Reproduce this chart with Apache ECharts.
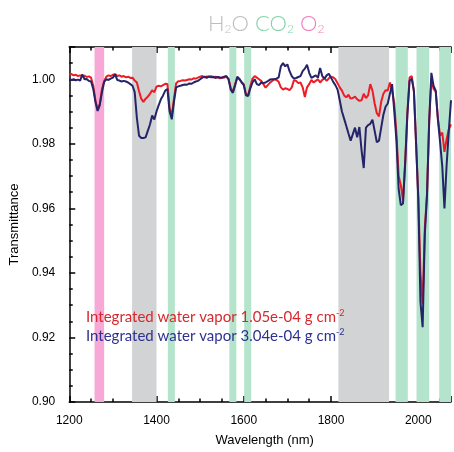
<!DOCTYPE html>
<html>
<head>
<meta charset="utf-8">
<title>Transmittance</title>
<script src="https://cdn.jsdelivr.net/npm/echarts@6/dist/echarts.min.js"></script>
</head>
<body style="margin:0">
<div id="container" style="width:454px;height:452px"></div>
<script>
// wavelength grid (nm)
var wavelengths = [
  1200,1205,1210,1215,1220,1225,1230,1235,1240,1245,
  1250,1255,1260,1265,1270,1275,1280,1285,1290,1295,
  1300,1305,1310,1315,1320,1325,1330,1335,1340,1345,
  1350,1355,1360,1365,1370,1375,1380,1385,1390,1395,
  1400,1405,1410,1415,1420,1425,1430,1435,1440,1445,
  1450,1455,1460,1465,1470,1475,1480,1485,1490,1495,
  1500,1505,1510,1515,1520,1525,1530,1535,1540,1545,
  1550,1555,1560,1565,1570,1575,1580,1585,1590,1595,
  1600,1605,1610,1615,1620,1625,1630,1635,1640,1645,
  1650,1655,1660,1665,1670,1675,1680,1685,1690,1695,
  1700,1705,1710,1715,1720,1725,1730,1735,1740,1745,
  1750,1755,1760,1765,1770,1775,1780,1785,1790,1795,
  1800,1805,1810,1815,1820,1825,1830,1835,1840,1845,
  1850,1855,1860,1865,1870,1875,1880,1885,1890,1895,
  1900,1905,1910,1915,1920,1925,1930,1935,1940,1945,
  1950,1955,1960,1965,1970,1975,1980,1985,1990,1995,
  2000,2005,2010,2015,2020,2025,2030,2035,2040,2045,
  2050,2055,2060,2065,2070,2075
];

// transmittance, integrated water vapor 1.05e-04 g cm-2 (red)
var lowVapor = [
  1.0015,1.0016,1.0012,1.0014,1.0010,1.0012,1.0009,1.0011,1.0007,1.0009,
  1.0005,0.9980,0.9935,0.9905,0.9925,0.9970,0.9995,1.0008,1.0012,1.0010,
  1.0014,1.0016,1.0010,1.0012,1.0008,1.0010,1.0006,1.0008,1.0004,1.0005,
  0.9996,0.9990,0.9963,0.9940,0.9930,0.9940,0.9946,0.9955,0.9966,0.9960,
  0.9977,0.9980,0.9978,0.9982,0.9986,0.9985,0.9910,0.9888,0.9940,0.9988,
  0.9994,0.9995,0.9997,0.9996,0.9998,1.0000,0.9999,1.0003,1.0002,1.0005,
  1.0008,1.0010,1.0006,1.0009,1.0007,1.0010,1.0005,1.0008,1.0006,1.0003,
  1.0006,1.0005,1.0008,1.0002,0.9975,0.9960,0.9985,1.0003,1.0000,0.9992,
  0.9985,0.9955,0.9950,0.9978,1.0002,1.0010,1.0005,1.0000,0.9995,0.9985,
  0.9974,0.9982,0.9989,0.9995,1.0000,0.9998,0.9992,0.9975,0.9968,0.9972,
  0.9970,0.9966,0.9975,0.9997,0.9995,0.9988,0.9990,0.9975,0.9945,0.9975,
  0.9985,0.9998,0.9990,0.9995,1.0000,0.9990,0.9998,1.0003,0.9995,1.0003,
  1.0008,1.0006,1.0000,0.9988,0.9975,0.9965,0.9950,0.9944,0.9952,0.9940,
  0.9942,0.9946,0.9938,0.9933,0.9935,0.9955,0.9942,0.9950,0.9985,0.9965,
  0.9925,0.9895,0.9885,0.9930,0.9955,0.9966,0.9965,0.9990,0.9965,0.9925,
  0.9830,0.9700,0.9672,0.9625,0.9745,0.9895,1.0005,1.0010,0.9962,0.9800,
  0.9635,0.9400,0.9305,0.9540,0.9645,0.9868,1.0000,0.9970,0.9962,0.9878,
  0.9825,0.9835,0.9775,0.9815,0.9845,0.9860
];

// transmittance, integrated water vapor 3.04e-04 g cm-2 (blue)
var highVapor = [
  1.0000,0.9998,1.0000,0.9997,0.9999,0.9996,1.0015,1.0000,1.0001,0.9995,
  0.9993,0.9970,0.9930,0.9902,0.9920,0.9960,0.9992,1.0000,0.9998,1.0002,
  1.0005,1.0015,0.9998,0.9996,0.9993,0.9995,0.9993,0.9990,0.9985,0.9980,
  0.9960,0.9880,0.9825,0.9818,0.9818,0.9820,0.9840,0.9860,0.9888,0.9875,
  0.9900,0.9920,0.9938,0.9950,0.9965,0.9970,0.9900,0.9876,0.9930,0.9975,
  0.9978,0.9980,0.9982,0.9984,0.9983,0.9987,0.9986,0.9990,0.9993,0.9995,
  1.0000,1.0005,1.0008,1.0004,1.0009,1.0006,1.0008,1.0004,1.0007,1.0006,
  1.0004,1.0008,1.0010,1.0000,0.9968,0.9958,0.9980,1.0008,1.0002,0.9990,
  0.9982,0.9950,0.9948,0.9972,0.9990,1.0000,0.9985,0.9982,0.9990,0.9988,
  0.9990,0.9994,0.9999,1.0000,1.0000,1.0002,1.0006,1.0040,1.0050,1.0040,
  1.0046,1.0025,1.0010,1.0002,1.0004,1.0007,1.0010,1.0025,1.0033,1.0045,
  1.0020,1.0004,1.0008,1.0012,1.0005,1.0035,1.0010,1.0002,1.0012,1.0017,
  1.0005,0.9992,0.9982,0.9968,0.9935,0.9900,0.9878,0.9855,0.9832,0.9810,
  0.9830,0.9850,0.9820,0.9852,0.9780,0.9725,0.9850,0.9858,0.9862,0.9875,
  0.9840,0.9805,0.9810,0.9850,0.9890,0.9915,0.9925,0.9955,0.9985,0.9900,
  0.9810,0.9660,0.9610,0.9615,0.9740,0.9890,0.9995,1.0002,0.9965,0.9800,
  0.9630,0.9310,0.9232,0.9520,0.9640,0.9870,1.0020,0.9980,0.9965,0.9875,
  0.9805,0.9730,0.9600,0.9735,0.9840,0.9935
];

// absorption bands (nm)
var o2Bands = [[1258, 1280]];
var h2oBands = [[1344, 1400], [1817, 1933]];
var co2Bands = [[1426, 1442], [1567, 1583], [1601, 1617], [1948, 1976], [1996, 2025], [2048, 2080]];

var xMin = 1200, xMax = 2075;
var yMin = 0.90, yMax = 1.01;

var dom = document.getElementById('container');
var myChart = echarts.init(dom);

var toPairs = function (vals) {
  var res = [];
  for (var i = 0; i < wavelengths.length; i++) {
    res.push([wavelengths[i], vals[i]]);
  }
  return res;
};

var toAreas = function (bands) {
  return bands.map(function (b) {
    return [{xAxis: b[0]}, {xAxis: b[1]}];
  });
};

var bandSeries = function (name, bands, color) {
  return {
    name: name,
    type: 'line',
    data: [],
    z: 1,
    silent: true,
    markArea: {
      silent: true,
      itemStyle: {color: color},
      data: toAreas(bands)
    }
  };
};

var axisBlack = {color: '#000', width: 1.5};
var font = 'Liberation Sans, Arial, sans-serif';

var xAxisBase = function (position, interval, tickLen, showLine, showLabel) {
  return {
    type: 'value',
    position: position,
    min: xMin,
    max: xMax,
    interval: interval,
    axisLine: {show: showLine, onZero: false, lineStyle: axisBlack},
    axisTick: {inside: true, length: tickLen, lineStyle: axisBlack},
    axisLabel: {
      show: showLabel,
      margin: 13,
      color: '#000',
      fontSize: 12,
      fontFamily: font,
      formatter: function (v) { return v % 200 === 0 ? v : ''; }
    },
    splitLine: {show: false}
  };
};

var yAxisBase = function (interval, tickLen, showLabel) {
  return {
    type: 'value',
    position: 'left',
    min: yMin,
    max: yMax,
    interval: interval,
    axisLine: {show: showLabel, onZero: false, lineStyle: axisBlack},
    axisTick: {inside: true, length: tickLen, lineStyle: axisBlack},
    axisLabel: {
      show: showLabel,
      margin: 14,
      color: '#000',
      fontSize: 12,
      fontFamily: font,
      formatter: function (v) {
        var k = Math.round(v / 0.02);
        return Math.abs(k * 0.02 - v) < 1e-9 ? v.toFixed(2) : '';
      }
    },
    splitLine: {show: false}
  };
};

var xMain = xAxisBase('bottom', 200, 6, true, true);
xMain.name = 'Wavelength (nm)';
xMain.nameLocation = 'middle';
xMain.nameGap = 32;
xMain.nameTextStyle = {color: '#000', fontSize: 13, fontFamily: font, padding: [0, 0, 0, 9]};

var yMain = yAxisBase(0.02, 6, true);
yMain.name = 'Transmittance';
yMain.nameLocation = 'middle';
yMain.nameGap = 45;
yMain.nameTextStyle = {color: '#000', fontSize: 13, fontFamily: font};

var legendFont = 'Lato, Open Sans, sans-serif';

// one gas label with a subscripted 2
var gasLabel = function (x, main, after, color) {
  var big = {fontSize: 22, fontFamily: legendFont, fontWeight: 300, fill: color};
  var sub = {fontSize: 12, fontFamily: legendFont, fontWeight: 300, fill: color, padding: [10, 0, 0, 0]};
  return {
    type: 'text',
    left: x,
    top: 13,
    z: 100,
    style: {
      text: '{b|' + main + '}{s|2}' + (after ? '{b|' + after + '}' : ''),
      rich: {b: big, s: sub}
    }
  };
};

option = {
  backgroundColor: '#fff',
  animation: false,
  grid: {left: 69, top: 47, width: 385, height: 360},
  xAxis: [
    xMain,
    xAxisBase('bottom', 50, 3.5, false, false),
    xAxisBase('top', 200, 6, true, false),
    xAxisBase('top', 50, 3.5, false, false)
  ],
  yAxis: [
    yMain,
    yAxisBase(0.005, 3.5, false)
  ],
  graphic: [
    gasLabel(208, 'H', 'O', '#bcbec0'),
    gasLabel(255, 'CO', '', '#86d4ab'),
    gasLabel(300, 'O', '', '#f27dbd'),
    {
      type: 'text',
      left: 86,
      top: 309,
      z: 100,
      style: {
        text: '{t|Integrated water vapor 1.05e-04 g cm}{s|-2}',
        rich: {
          t: {fontSize: 15, fontFamily: legendFont, fill: '#d7282f'},
          s: {fontSize: 9, fontFamily: legendFont, fill: '#d7282f', padding: [0, 0, 8, 0]}
        }
      }
    },
    {
      type: 'text',
      left: 86,
      top: 328,
      z: 100,
      style: {
        text: '{t|Integrated water vapor 3.04e-04 g cm}{s|-2}',
        rich: {
          t: {fontSize: 15, fontFamily: legendFont, fill: '#2e3192'},
          s: {fontSize: 9, fontFamily: legendFont, fill: '#2e3192', padding: [0, 0, 8, 0]}
        }
      }
    }
  ],
  series: [
    bandSeries('O2', o2Bands, '#f8a8d6'),
    bandSeries('H2O', h2oBands, '#d1d3d4'),
    bandSeries('CO2', co2Bands, '#b4e4cb'),
    {
      name: '1.05e-04',
      type: 'line',
      data: toPairs(lowVapor),
      showSymbol: false,
      z: 3,
      lineStyle: {color: '#ee1c25', width: 2}
    },
    {
      name: '3.04e-04',
      type: 'line',
      data: toPairs(highVapor),
      showSymbol: false,
      z: 4,
      lineStyle: {color: '#262469', width: 2}
    }
  ]
};

myChart.setOption(option, true);
</script>
</body>
</html>
